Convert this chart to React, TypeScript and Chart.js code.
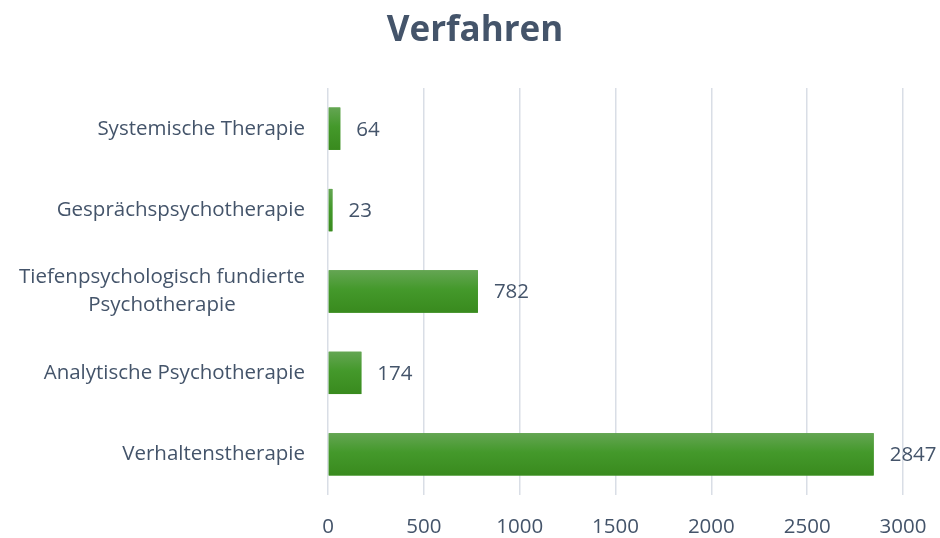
import React, { useEffect, useRef } from "react";
import { Chart, registerables } from "chart.js";

Chart.register(...registerables);

const categories: string[][] = [
  ["Systemische Therapie"],
  ["Gesprächspsychotherapie"],
  ["Tiefenpsychologisch fundierte", "Psychotherapie"],
  ["Analytische Psychotherapie"],
  ["Verhaltenstherapie"],
];
const values: number[] = [64, 23, 782, 174, 2847];
const xTicks: number[] = [0, 500, 1000, 1500, 2000, 2500, 3000];
const titleText = "Verfahren";

const FONT = "'Open Sans', sans-serif";
const TEXT = "#44546A";
const LABEL_SIZE = 20.5;

const customPlugin = {
  id: "customDraw",
  afterDatasetsDraw(chart: any) {
    const ctx = chart.ctx;
    const meta = chart.getDatasetMeta(0);
    ctx.save();
    meta.data.forEach((bar: any, i: number) => {
      const top = bar.y - bar.height / 2;
      const bottom = bar.y + bar.height / 2;
      const left = Math.min(bar.base, bar.x);
      const w = Math.abs(bar.x - bar.base);
      const g = ctx.createLinearGradient(0, top, 0, bottom);
      g.addColorStop(0, "#64A553");
      g.addColorStop(0.45, "#44992B");
      g.addColorStop(1, "#398A1E");
      ctx.fillStyle = g;
      ctx.fillRect(left, top, w, bottom - top);
      ctx.fillStyle = TEXT;
      ctx.font = `${LABEL_SIZE}px ${FONT}`;
      ctx.textAlign = "left";
      ctx.textBaseline = "middle";
      ctx.fillText(String(values[i]), bar.x + 16, bar.y + 1);
    });
    // y-axis category labels
    const yScale = chart.scales.y;
    const rightX = chart.chartArea.left - 23;
    ctx.font = `${LABEL_SIZE}px ${FONT}`;
    ctx.fillStyle = TEXT;
    ctx.textBaseline = "middle";
    const lh = 28;
    categories.forEach((lines, i) => {
      const cy = yScale.getPixelForTick(i);
      const maxW = Math.max(...lines.map((l) => ctx.measureText(l).width));
      const startY = cy - ((lines.length - 1) * lh) / 2;
      lines.forEach((l, j) => {
        if (lines.length > 1) {
          ctx.textAlign = "center";
          ctx.fillText(l, rightX - maxW / 2, startY + j * lh);
        } else {
          ctx.textAlign = "right";
          ctx.fillText(l, rightX, startY + j * lh);
        }
      });
    });
    // title
    ctx.font = `bold 35px ${FONT}`;
    ctx.textAlign = "center";
    ctx.textBaseline = "middle";
    ctx.fillText(titleText, 475, 31);
    ctx.restore();
  },
};

export default function App() {
  const ref = useRef<HTMLCanvasElement>(null);
  useEffect(() => {
    if (!ref.current) return;
    const chart = new Chart(ref.current, {
      type: "bar",
      data: {
        labels: categories.map((c) => c.join(" ")),
        datasets: [
          {
            data: values,
            backgroundColor: "#44992B",
            categoryPercentage: 1,
            barPercentage: 0.52,
          },
        ],
      },
      options: {
        indexAxis: "y",
        animation: false,
        responsive: false,
        maintainAspectRatio: false,
        layout: { padding: { left: 0, right: 37, top: 88, bottom: 0 } },
        plugins: {
          legend: { display: false },
          tooltip: { enabled: false },
          title: { display: false },
        },
        scales: {
          x: {
            min: 0,
            max: 3000,
            afterBuildTicks: (s: any) => {
              s.ticks = xTicks.map((v) => ({ value: v }));
            },
            afterFit: (s: any) => {
              s.height = 43;
              s.paddingRight = 0;
              s.paddingLeft = 0;
            },
            grid: { color: "#D9DEE6", lineWidth: 1.5, drawTicks: false },
            border: { display: false },
            ticks: {
              color: TEXT,
              font: { family: FONT, size: LABEL_SIZE },
              padding: 20,
              callback: (v: any) => String(v),
            },
          },
          y: {
            afterFit: (s: any) => {
              s.width = 328;
            },
            grid: { display: false },
            border: { display: false },
            ticks: { display: false },
          },
        },
      },
      plugins: [customPlugin],
    });
    return () => chart.destroy();
  }, []);
  return (
    <div style={{ position: "fixed", left: 0, top: 0, width: 940, height: 538, background: "#fff" }}>
      <canvas ref={ref} width={940} height={538} style={{ display: "block" }} />
    </div>
  );
}
